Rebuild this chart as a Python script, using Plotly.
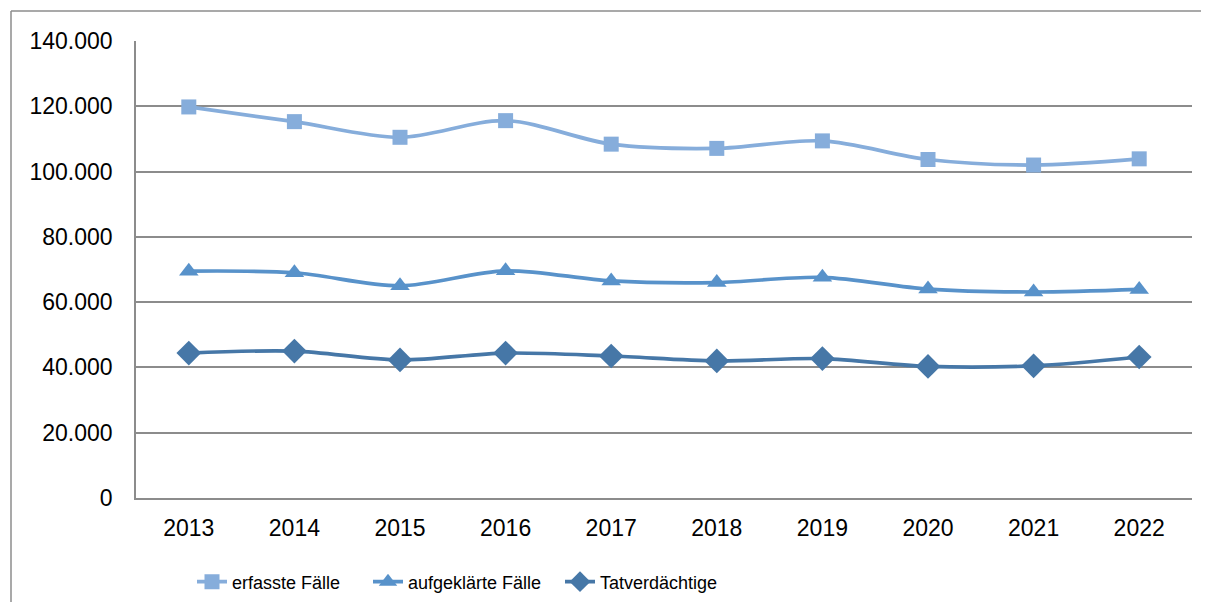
import plotly.graph_objects as go

years = ["2013", "2014", "2015", "2016", "2017", "2018", "2019", "2020", "2021", "2022"]
erfasste = [119800, 115300, 110500, 115600, 108400, 107100, 109400, 103700, 102000, 103900]
aufgeklaerte = [69500, 69000, 65000, 69600, 66500, 66000, 67600, 64000, 63100, 63900]
tatverdaechtige = [44400, 45000, 42300, 44400, 43500, 42000, 42700, 40300, 40500, 43200]
y_ticks = [0, 20000, 40000, 60000, 80000, 100000, 120000, 140000]
y_tick_text = ["0", "20.000", "40.000", "60.000", "80.000", "100.000", "120.000", "140.000"]

FONT = "Liberation Sans, Arial, sans-serif"

c1, c2, c3 = "#86ADDB", "#5892CA", "#4677A7"

# page body has an 8px margin: work in reference page pixels, convert to figure pixels
OFF = 8
W, H = 1209 - 2 * OFF, 610 - 2 * OFF
L_ref, R_ref, T_ref, B_ref = 136, 1192, 41, 498
L, T = L_ref - OFF, T_ref - OFF
R = W - (R_ref - OFF)
B = H - (B_ref - OFF)
pw, ph = W - L - R, H - T - B

def px_x(x):
    return (x - OFF - L) / pw

def px_y(y):
    return (H - B - (y - OFF)) / ph

fig = go.Figure()
fig.add_trace(go.Scatter(x=years, y=erfasste, name="erfasste Fälle", mode="lines+markers",
                         line=dict(color=c1, width=3.7, shape="spline", smoothing=0.9),
                         marker=dict(symbol="square", size=15, color=c1), legend="legend"))
fig.add_trace(go.Scatter(x=years, y=aufgeklaerte, name="aufgeklärte Fälle", mode="lines+markers",
                         line=dict(color=c2, width=3.7, shape="spline", smoothing=0.9),
                         marker=dict(symbol="triangle-up", size=17, color=c2), legend="legend2"))
fig.add_trace(go.Scatter(x=years, y=tatverdaechtige, name="Tatverdächtige", mode="lines+markers",
                         line=dict(color=c3, width=3.7, shape="spline", smoothing=0.9),
                         marker=dict(symbol="diamond", size=19, color=c3), legend="legend3"))

leg_common = dict(orientation="h", yanchor="middle", xanchor="left", y=px_y(582),
                  font=dict(family=FONT, size=18, color="black"),
                  bgcolor="rgba(0,0,0,0)", itemsizing="trace", itemwidth=30)

border = dict(color="#8c8c8c", width=1.5)

fig.update_layout(
    width=W, height=H,
    margin=dict(l=L, r=R, t=T, b=B, autoexpand=False),
    paper_bgcolor="white", plot_bgcolor="white",
    font=dict(family=FONT, size=23, color="black"),
    showlegend=True,
    legend=dict(x=px_x(192), **leg_common),
    legend2=dict(x=px_x(368), **leg_common),
    legend3=dict(x=px_x(560), **leg_common),
    xaxis=dict(type="category", showgrid=False, showline=True, linecolor="#8c8c8c", linewidth=1.5,
               ticks="", ticklabelstandoff=9, tickfont=dict(size=23, family=FONT, color="black"),
               range=[-0.5, 9.5], fixedrange=True, automargin=False),
    yaxis=dict(range=[0, 140000], tickvals=y_ticks, ticktext=y_tick_text, showgrid=True,
               gridcolor="#8c8c8c", gridwidth=1.5, showline=True, linecolor="#8c8c8c", linewidth=1.5,
               zeroline=False, ticks="", ticklabelstandoff=17, automargin=False,
               tickfont=dict(size=23, family=FONT, color="black")),
    shapes=[
        dict(type="line", xref="paper", yref="paper", x0=px_x(11), x1=px_x(1260),
             y0=px_y(11), y1=px_y(11), line=border, layer="below"),
        dict(type="line", xref="paper", yref="paper", x0=px_x(11), x1=px_x(11),
             y0=px_y(11), y1=px_y(660), line=border, layer="below"),
    ],
)

fig.write_html("out.html")
